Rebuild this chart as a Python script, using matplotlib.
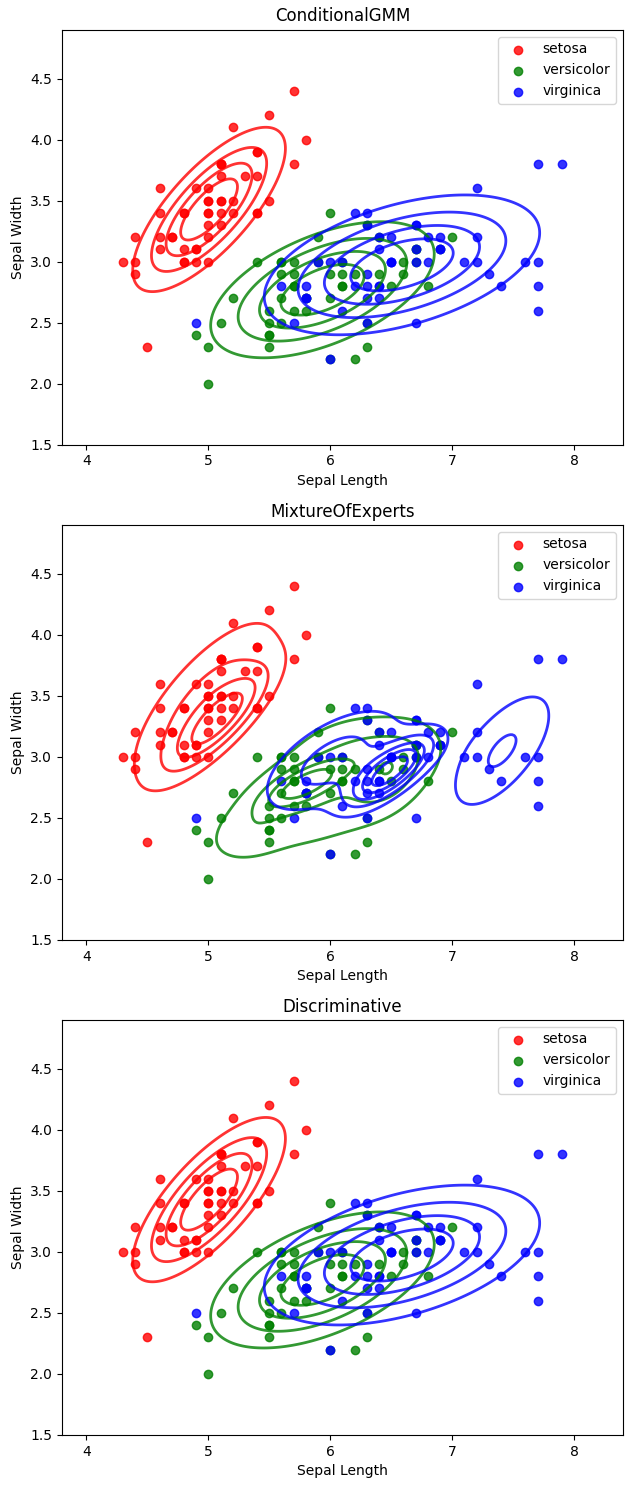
import numpy as np
import matplotlib
matplotlib.use('Agg')
import matplotlib.pyplot as plt

species = ['setosa', 'versicolor', 'virginica']
colors = ['red', 'green', 'blue']
titles = ['ConditionalGMM', 'MixtureOfExperts', 'Discriminative']

setosa_length = [5.1, 4.9, 4.7, 4.6, 5.0, 5.4, 4.6, 5.0, 4.4, 4.9, 5.4, 4.8, 4.8, 4.3, 5.8, 5.7, 5.4, 5.1, 5.7, 5.1,
                 5.4, 5.1, 4.6, 5.1, 4.8, 5.0, 5.0, 5.2, 5.2, 4.7, 4.8, 5.4, 5.2, 5.5, 4.9, 5.0, 5.5, 4.9, 4.4, 5.1,
                 5.0, 4.5, 4.4, 5.0, 5.1, 4.8, 5.1, 4.6, 5.3, 5.0]
setosa_width = [3.5, 3.0, 3.2, 3.1, 3.6, 3.9, 3.4, 3.4, 2.9, 3.1, 3.7, 3.4, 3.0, 3.0, 4.0, 4.4, 3.9, 3.5, 3.8, 3.8,
                3.4, 3.7, 3.6, 3.3, 3.4, 3.0, 3.4, 3.5, 3.4, 3.2, 3.1, 3.4, 4.1, 4.2, 3.1, 3.2, 3.5, 3.6, 3.0, 3.4,
                3.5, 2.3, 3.2, 3.5, 3.8, 3.0, 3.8, 3.2, 3.7, 3.3]
versicolor_length = [7.0, 6.4, 6.9, 5.5, 6.5, 5.7, 6.3, 4.9, 6.6, 5.2, 5.0, 5.9, 6.0, 6.1, 5.6, 6.7, 5.6, 5.8, 6.2, 5.6,
                     5.9, 6.1, 6.3, 6.1, 6.4, 6.6, 6.8, 6.7, 6.0, 5.7, 5.5, 5.5, 5.8, 6.0, 5.4, 6.0, 6.7, 6.3, 5.6, 5.5,
                     5.5, 6.1, 5.8, 5.0, 5.6, 5.7, 5.7, 6.2, 5.1, 5.7]
versicolor_width = [3.2, 3.2, 3.1, 2.3, 2.8, 2.8, 3.3, 2.4, 2.9, 2.7, 2.0, 3.0, 2.2, 2.9, 2.9, 3.1, 3.0, 2.7, 2.2, 2.5,
                    3.2, 2.8, 2.5, 2.8, 2.9, 3.0, 2.8, 3.0, 2.9, 2.6, 2.4, 2.4, 2.7, 2.7, 3.0, 3.4, 3.1, 2.3, 3.0, 2.5,
                    2.6, 3.0, 2.6, 2.3, 2.7, 3.0, 2.9, 2.9, 2.5, 2.8]
virginica_length = [6.3, 5.8, 7.1, 6.3, 6.5, 7.6, 4.9, 7.3, 6.7, 7.2, 6.5, 6.4, 6.8, 5.7, 5.8, 6.4, 6.5, 7.7, 7.7, 6.0,
                    6.9, 5.6, 7.7, 6.3, 6.7, 7.2, 6.2, 6.1, 6.4, 7.2, 7.4, 7.9, 6.4, 6.3, 6.1, 7.7, 6.3, 6.4, 6.0, 6.9,
                    6.7, 6.9, 5.8, 6.8, 6.7, 6.7, 6.3, 6.5, 6.2, 5.9]
virginica_width = [3.3, 2.7, 3.0, 2.9, 3.0, 3.0, 2.5, 2.9, 2.5, 3.6, 3.2, 2.7, 3.0, 2.5, 2.8, 3.2, 3.0, 3.8, 2.6, 2.2,
                   3.2, 2.8, 2.8, 2.7, 3.3, 3.2, 2.8, 3.0, 2.8, 3.0, 2.8, 3.8, 2.8, 2.8, 2.6, 3.0, 3.4, 3.1, 3.0, 3.1,
                   3.1, 3.1, 2.7, 3.2, 3.3, 3.0, 2.5, 3.0, 3.4, 3.0]

lengths = [setosa_length, versicolor_length, virginica_length]
widths = [setosa_width, versicolor_width, virginica_width]

# Mixture-of-experts class densities: (weight, mean_x, mean_y, sd_x, sd_y, corr)
moe_setosa = [(0.70, 4.97, 3.46, 0.43, 0.48, 0.75), (0.30, 5.10, 3.30, 0.27, 0.27, 0.82)]
moe_versicolor = [(0.104, 5.78, 2.77, 0.24, 0.14, 0.70), (0.538, 6.00, 2.75, 0.62, 0.42, 0.50),
                  (0.069, 6.50, 2.85, 0.20, 0.20, 0.40), (0.030, 5.30, 2.35, 0.20, 0.14, 0.30),
                  (0.053, 6.35, 3.10, 0.35, 0.16, 0.00)]
moe_virginica = [(0.28, 6.50, 2.88, 0.23, 0.19, 0.75), (0.42, 6.02, 2.97, 0.40, 0.30, 0.60),
                 (0.32, 7.41, 3.05, 0.31, 0.357, 0.65)]
moe_models = [moe_setosa, moe_versicolor, moe_virginica]
moe_levels = [[0.2, 0.4, 0.6, 0.8], [0.2, 0.4, 0.6, 0.8], [1/6, 2/6, 3/6, 4/6, 5/6]]
gauss_levels = [0.2, 0.4, 0.6, 0.8]


def gauss(X, Y, mx, my, sx, sy, r):
    dx = (X - mx) / sx
    dy = (Y - my) / sy
    z = (dx * dx - 2 * r * dx * dy + dy * dy) / (1 - r * r)
    return np.exp(-z / 2) / (2 * np.pi * sx * sy * np.sqrt(1 - r * r))


xmin = min(min(l) for l in lengths) - 0.5
xmax = max(max(l) for l in lengths) + 0.5
ymin = min(min(w) for w in widths) - 0.5
ymax = max(max(w) for w in widths) + 0.5
gx = np.linspace(xmin, xmax, 300)
gy = np.linspace(ymin, ymax, 300)
X, Y = np.meshgrid(gx, gy)

fig, axes = plt.subplots(3, 1, figsize=(6.33, 14.89), dpi=100)
fig.subplots_adjust(left=0.098, right=0.984, top=0.98, bottom=0.0363, hspace=0.193)

for k, ax in enumerate(axes):
    for i in range(3):
        xs = np.array(lengths[i])
        ys = np.array(widths[i])
        ax.scatter(xs, ys, color=colors[i], alpha=0.8, label=species[i])
    for i in range(3):
        xs = np.array(lengths[i])
        ys = np.array(widths[i])
        if k == 1:
            Z = sum(w * gauss(X, Y, mx, my, sx, sy, r) for (w, mx, my, sx, sy, r) in moe_models[i])
            lv = [f * Z.max() for f in moe_levels[i]]
        else:
            mx, my = xs.mean(), ys.mean()
            cov = np.cov(xs, ys, bias=True)
            sx, sy = np.sqrt(cov[0, 0]), np.sqrt(cov[1, 1])
            r = cov[0, 1] / (sx * sy)
            Z = gauss(X, Y, mx, my, sx, sy, r)
            lv = [f * Z.max() for f in gauss_levels]
        ax.contour(X, Y, Z, levels=lv, colors=colors[i], alpha=0.8, linewidths=2)
    ax.set_xlim(xmin, xmax)
    ax.set_ylim(ymin, ymax)
    ax.set_xlabel('Sepal Length')
    ax.set_ylabel('Sepal Width')
    ax.set_title(titles[k])
    ax.legend(loc='upper right')

fig.savefig('out.png', dpi=100)
